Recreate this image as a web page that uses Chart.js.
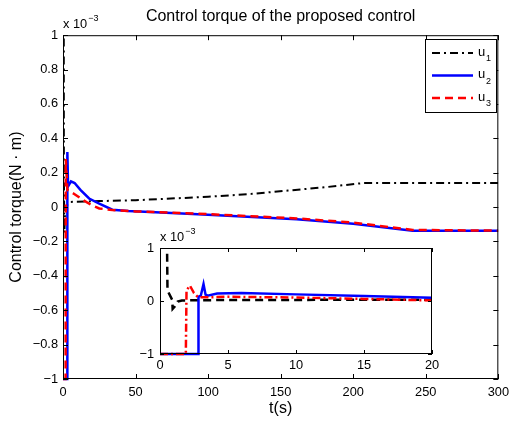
<!DOCTYPE html>
<html>
<head>
<meta charset="UTF-8">
<title>Control torque of the proposed control</title>
<script src="https://cdn.jsdelivr.net/npm/chart.js@4.4.1/dist/chart.umd.min.js"></script>
<style>
  body { margin: 0; background: #fff; }
  #wrap { position: relative; width: 515px; height: 423px; }
  #inset { position: absolute; left: 100px; top: 225px; }
</style>
</head>
<body>
<div id="wrap">
  <canvas id="main" width="515" height="423"></canvas>
  <canvas id="inset" width="345" height="160"></canvas>
</div>
<script>
// values are in units of 1e-3 N·m (see the "x 10^-3" label)
// main plot, 0..300 s
const tU1 = [0, 0.5, 0.6, 0.95, 1.5, 5, 25, 50, 100, 130, 155, 180, 207, 300];
const u1  = [1.5, 1.5, 0.2, -0.15, 0, 0.03, 0.035, 0.04, 0.06, 0.077, 0.096, 0.115, 0.14, 0.14];
const tU2 = [0, 2.9, 3.0, 3.5, 4.2, 5.5, 8, 12, 18, 25, 34, 45, 60, 93, 161, 200, 241, 300];
const u2  = [-1, -1, 0.32, 0.12, 0.13, 0.15, 0.14, 0.1, 0.05, 0.02, -0.015, -0.022, -0.028, -0.042, -0.071, -0.097, -0.137, -0.137];
const tU3 = [0, 1.8, 1.9, 2.4, 3, 5, 8, 14, 20, 25, 34, 50, 93, 161, 200, 241, 300];
const u3  = [-1, -1, 0.28, 0.2, 0.1, 0.09, 0.075, 0.04, 0.01, -0.008, -0.017, -0.025, -0.038, -0.066, -0.09, -0.133, -0.137];

// zoomed plot, 0..20 s
const tIn1 = [0, 0.5, 0.55, 0.9, 0.93, 1.1, 1.3, 1.6, 5, 10, 15, 20];
const in1  = [1.5, 1.5, 0.2, 0.02, -0.15, -0.1, -0.01, 0.01, 0.02, 0.02, 0.025, 0.025];
const tIn2 = [0, 2.8, 2.83, 3.0, 3.2, 3.35, 3.5, 4.2, 6, 10, 15, 20];
const in2  = [-1, -1, 0.08, 0.1, 0.32, 0.12, 0.1, 0.14, 0.15, 0.125, 0.095, 0.06];
const tIn3 = [0, 1.9, 1.95, 2.2, 2.5, 2.8, 3.5, 5, 10, 15, 20];
const in3  = [-1, -1, 0.2, 0.29, 0.15, 0.07, 0.07, 0.08, 0.065, 0.04, 0.01];

const seriesNames = ['1', '2', '3'];   // subscripts of u

Chart.defaults.font.family = "'Liberation Sans', Arial, sans-serif";
Chart.defaults.color = '#000';

const pts = (t, v) => t.map((x, i) => ({x: x, y: v[i]}));
const fmt = v => {
  if (Math.abs(v) < 1e-9) return '0';
  return String(Math.round(v * 10) / 10).replace('-', '\u2212');
};

// box around the plot area with inward ticks on all four sides
const boxTicks = {
  id: 'boxTicks',
  beforeDatasetsDraw(chart) {
    const {ctx, chartArea: a} = chart;
    ctx.save();
    ctx.fillStyle = '#fff';
    ctx.fillRect(a.left, a.top, a.width, a.height);
    ctx.restore();
  },
  afterDatasetsDraw(chart, args, opts) {
    const {ctx, chartArea: a, scales: {x, y}} = chart;
    const len = opts.len || 5;
    ctx.save();
    ctx.strokeStyle = '#000';
    ctx.lineWidth = 1;
    ctx.beginPath();
    x.ticks.forEach(t => {
      const px = Math.round(x.getPixelForValue(t.value)) + 0.5;
      ctx.moveTo(px, a.bottom); ctx.lineTo(px, a.bottom - len);
      ctx.moveTo(px, a.top); ctx.lineTo(px, a.top + len);
    });
    y.ticks.forEach(t => {
      const py = Math.round(y.getPixelForValue(t.value)) + 0.5;
      ctx.moveTo(a.left, py); ctx.lineTo(a.left + len, py);
      ctx.moveTo(a.right, py); ctx.lineTo(a.right - len, py);
    });
    ctx.stroke();
    ctx.strokeRect(a.left + 0.5, a.top + 0.5, a.width - 1, a.height - 1);
    // exponent label "x 10^-3"
    ctx.fillStyle = '#000';
    ctx.textBaseline = 'alphabetic';
    ctx.font = "12.8px 'Liberation Sans', Arial, sans-serif";
    ctx.fillText('x 10', a.left, a.top - 7);
    const w = ctx.measureText('x 10').width;
    ctx.font = "9px 'Liberation Sans', Arial, sans-serif";
    ctx.fillText('\u22123', a.left + w + 1, a.top - 14);
    ctx.restore();
  }
};

// legend box in the top right corner
const cornerLegend = {
  id: 'cornerLegend',
  afterDraw(chart) {
    const {ctx} = chart;
    const bx = 425, by = 39, bw = 71, bh = 73;
    ctx.save();
    ctx.fillStyle = '#fff';
    ctx.fillRect(bx, by, bw, bh);
    ctx.strokeStyle = '#000';
    ctx.lineWidth = 1;
    ctx.setLineDash([]);
    ctx.strokeRect(bx + 0.5, by + 0.5, bw, bh);
    chart.data.datasets.forEach((ds, i) => {
      const yy = by + 14 + i * 22.5;
      ctx.strokeStyle = ds.borderColor;
      ctx.lineWidth = ds.borderWidth;
      ctx.setLineDash(ds.borderDash || []);
      ctx.beginPath();
      ctx.moveTo(bx + 7, yy);
      ctx.lineTo(bx + 48, yy);
      ctx.stroke();
      ctx.setLineDash([]);
      ctx.fillStyle = '#000';
      ctx.textBaseline = 'middle';
      ctx.font = "13px 'Liberation Sans', Arial, sans-serif";
      ctx.fillText('u', bx + 53, yy - 1);
      ctx.font = "9px 'Liberation Sans', Arial, sans-serif";
      ctx.fillText(seriesNames[i], bx + 61, yy + 6);
    });
    ctx.restore();
  }
};

function lineSet(t, v, color, width, dash, order) {
  return {
    data: pts(t, v),
    borderColor: color,
    borderWidth: width,
    borderDash: dash,
    pointRadius: 0,
    tension: 0,
    order: order,
    clip: {left: 0, top: 0, right: 0, bottom: 2}
  };
}

const tickFont = {size: 12.8};
const noGrid = {display: false, drawTicks: false};

new Chart(document.getElementById('main'), {
  type: 'line',
  data: {
    datasets: [
      lineSet(tU1, u1, '#000000', 2, [8, 4, 2, 4], 2),
      lineSet(tU2, u2, '#0000ff', 2.5, [], 1),
      lineSet(tU3, u3, '#ff0000', 2.5, [8, 5], 0)
    ]
  },
  options: {
    responsive: false,
    animation: false,
    layout: {padding: {top: 0, right: 12, left: 0, bottom: 0}},
    plugins: {
      legend: {display: false},
      tooltip: {enabled: false},
      title: {
        display: true,
        text: 'Control torque of the proposed control',
        fullSize: false,
        font: {size: 16, weight: 'normal'},
        padding: {top: 7, bottom: 9}
      },
      boxTicks: {len: 5}
    },
    scales: {
      x: {
        type: 'linear', min: 0, max: 300,
        ticks: {stepSize: 50, padding: 6, font: tickFont, maxRotation: 0, callback: fmt},
        grid: noGrid,
        border: {display: false},
        title: {display: true, text: 't(s)', font: {size: 16}, padding: {top: 0, bottom: 5}},
        afterFit(s) { s.height = 44; }
      },
      y: {
        min: -1, max: 1,
        ticks: {stepSize: 0.2, padding: 5, font: tickFont, callback: fmt},
        grid: noGrid,
        border: {display: false},
        title: {display: true, text: 'Control torque(N \u00b7 m)', font: {size: 16}, padding: {top: 7, bottom: 0}},
        afterFit(s) { s.width = 63; }
      }
    }
  },
  plugins: [boxTicks, cornerLegend]
});

new Chart(document.getElementById('inset'), {
  type: 'line',
  data: {
    datasets: [
      lineSet(tIn1, in1, '#000000', 2.5, [8, 5], 2),
      lineSet(tIn2, in2, '#0000ff', 2.5, [], 1),
      lineSet(tIn3, in3, '#ff0000', 2.5, [8, 3, 2, 3], 0)
    ]
  },
  options: {
    responsive: false,
    animation: false,
    layout: {padding: {top: 23, right: 13, left: 0, bottom: 0}},
    plugins: {
      legend: {display: false},
      tooltip: {enabled: false},
      boxTicks: {len: 4}
    },
    scales: {
      x: {
        type: 'linear', min: 0, max: 20,
        ticks: {stepSize: 5, padding: 4, font: tickFont, maxRotation: 0, callback: fmt},
        grid: noGrid,
        border: {display: false},
        afterFit(s) { s.height = 31; }
      },
      y: {
        min: -1, max: 1,
        ticks: {stepSize: 1, padding: 6, font: tickFont, callback: fmt},
        grid: noGrid,
        border: {display: false},
        afterFit(s) { s.width = 60; }
      }
    }
  },
  plugins: [boxTicks]
});
</script>
</body>
</html>
